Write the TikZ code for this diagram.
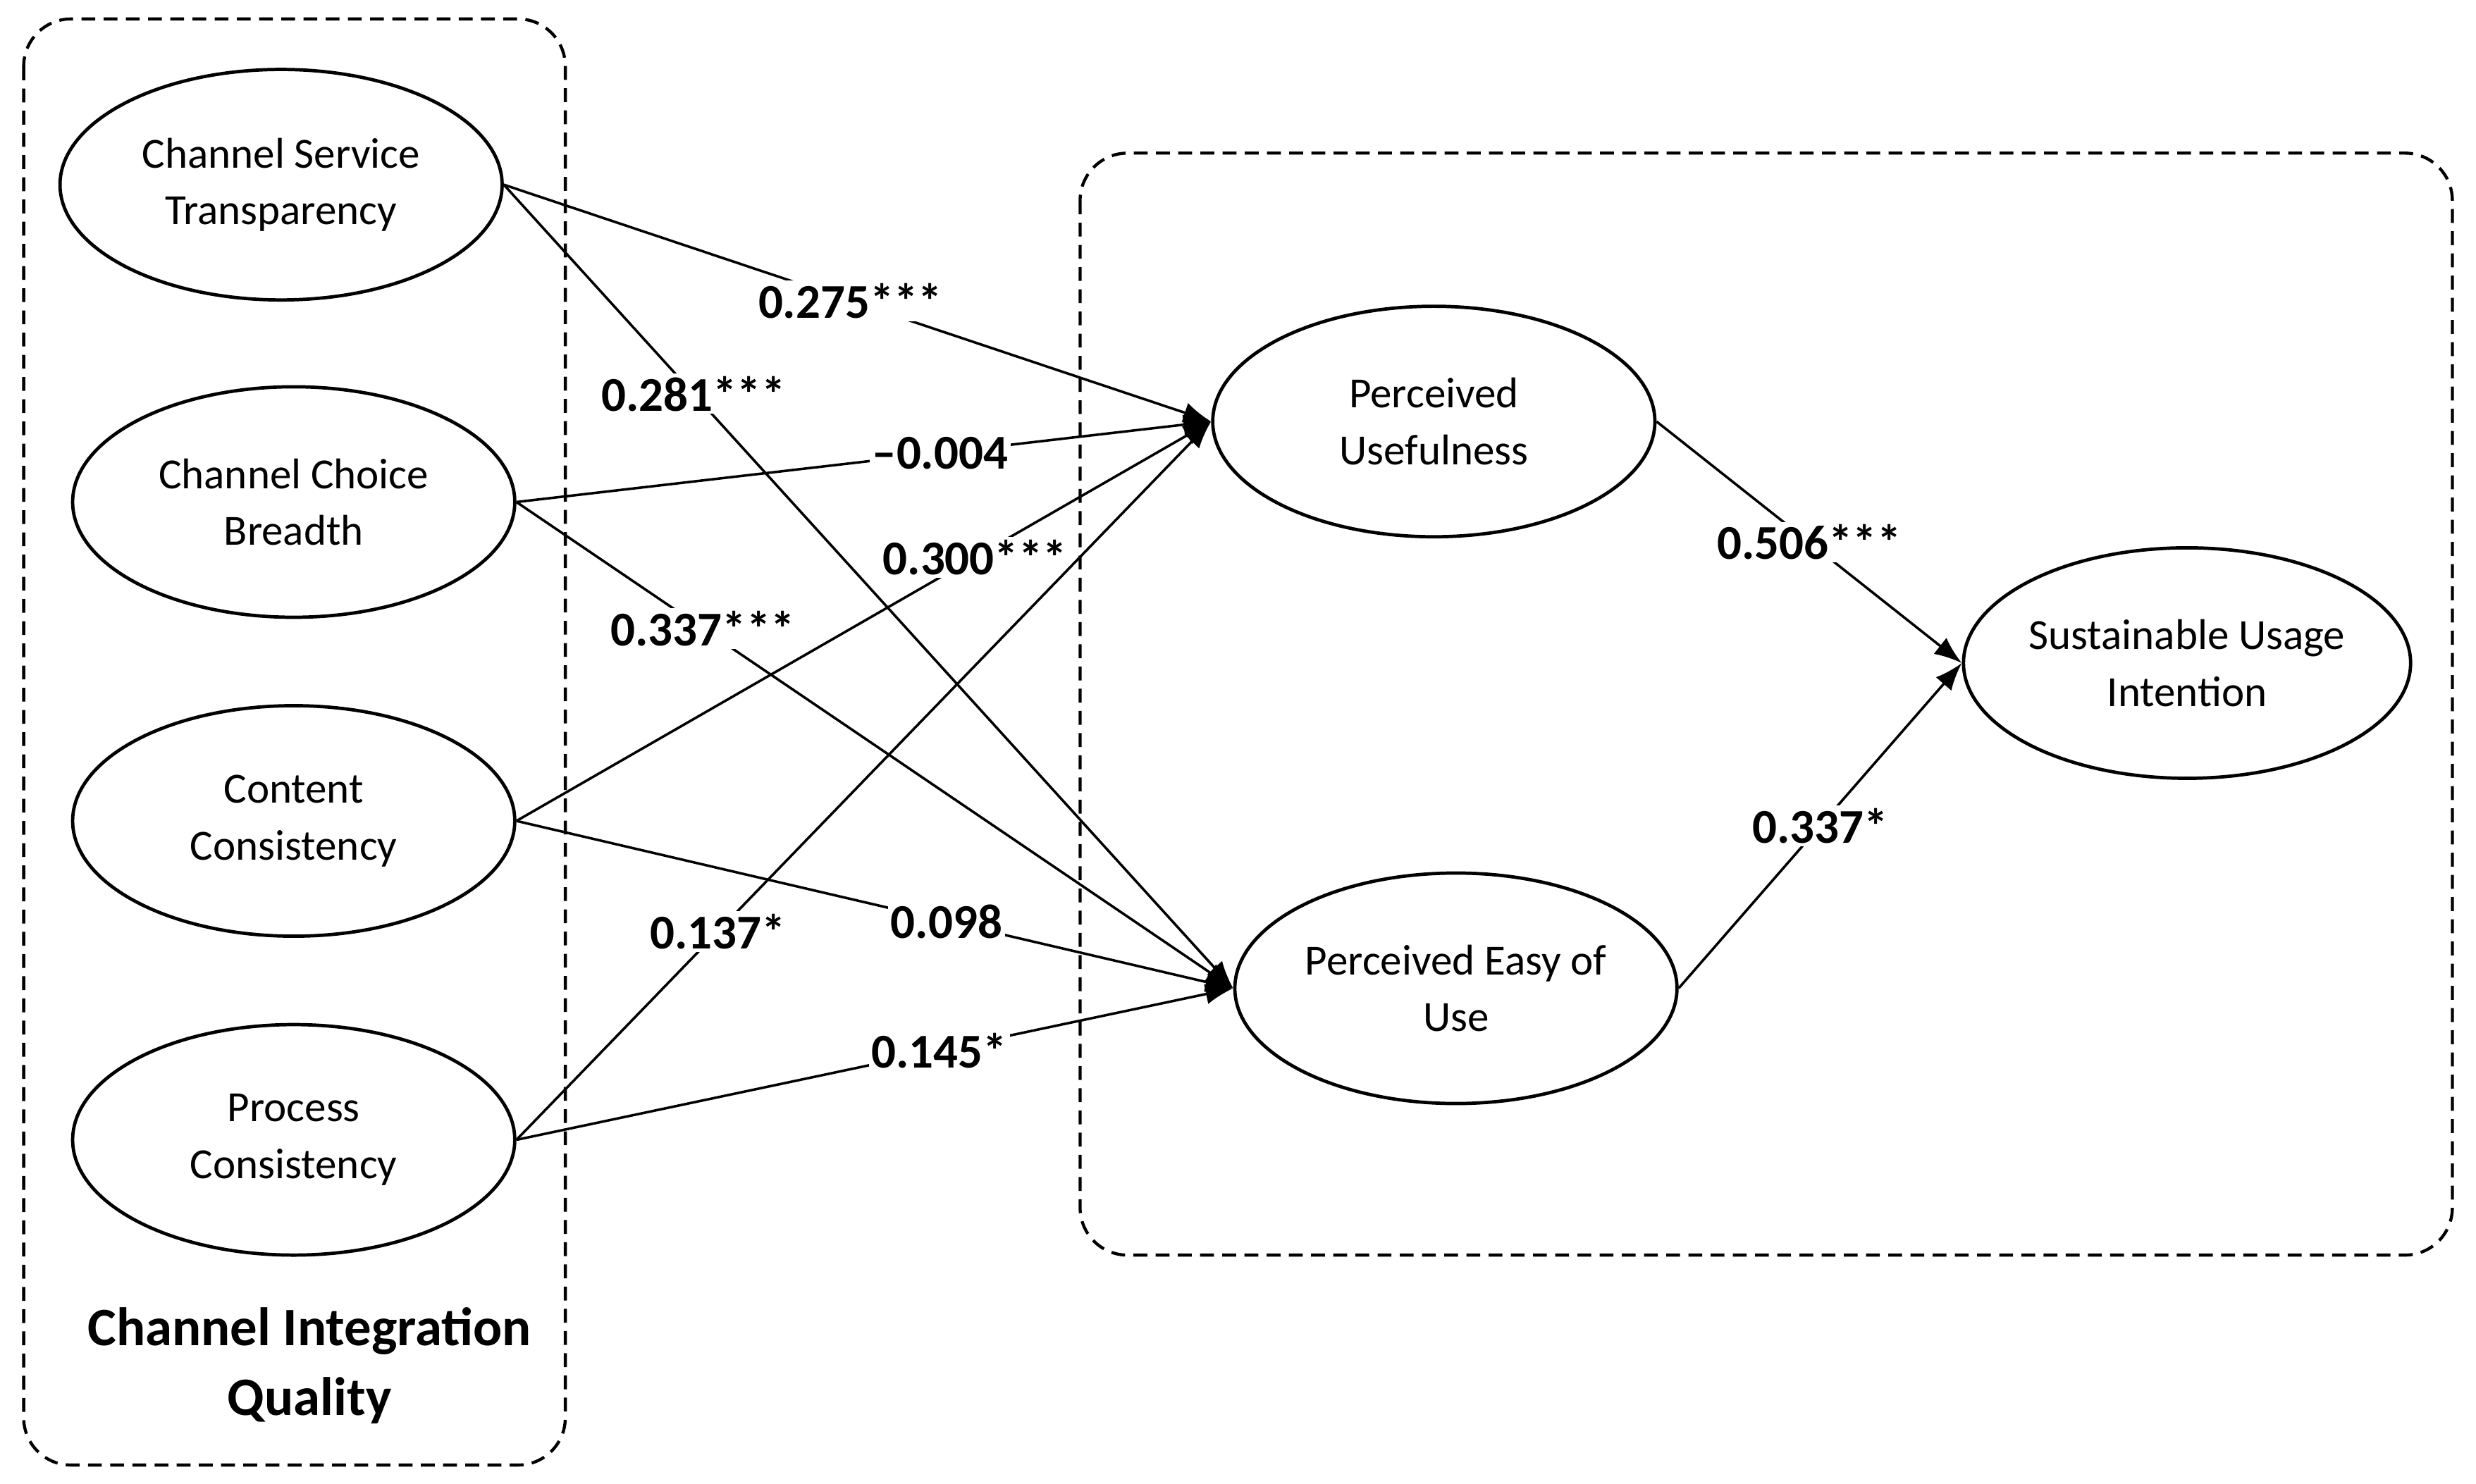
\documentclass[tikz,border=0pt]{standalone}
\usepackage{fontspec}
\setmainfont{Carlito}
\usetikzlibrary{arrows.meta,shapes.geometric}
\begin{document}
\begin{tikzpicture}[x=0.2mm,y=-0.2mm,
 ell/.style={draw,line width=1.2pt,ellipse,minimum width=280*0.2mm,minimum height=146*0.2mm,align=center,font=\fontsize{15.5}{20.5}\selectfont,inner sep=0pt},
 box/.style={draw,dash pattern=on 5pt off 3pt,line width=1.1pt,rounded corners=6mm},
 ar/.style={line width=0.9pt,-{Latex[length=3.5mm,width=2.6mm]}},
 lb/.style={fill=white,inner sep=1pt,font=\fontsize{17.5}{19}\selectfont\bfseries}]
\useasboundingbox (0,0) rectangle (1568,940);
\draw[box] (15,12) rectangle (358,928);
\draw[box] (684,97) rectangle (1553,795);
\node[ell] (cst) at (178,117) {Channel Service\\Transparency};
\node[ell] (ccb) at (186,318) {Channel Choice\\Breadth};
\node[ell] (cc) at (186,520) {Content\\Consistency};
\node[ell] (pc) at (186,722) {Process\\Consistency};
\node[ell] (pu) at (908,267) {Perceived\\Usefulness};
\node[ell] (pe) at (922,626) {Perceived Easy of\\Use};
\node[ell] (su) at (1385,420) {Sustainable Usage\\Intention};
\node[align=center,font=\fontsize{19.5}{25}\selectfont\bfseries] (t) at (196,865) {Channel Integration\\Quality};
\draw[ar] (cst.east) -- node[lb,pos=0.49]{0.275***} (pu.west);
\draw[ar] (cst.east) -- node[lb,pos=0.26]{0.281***} (pe.west);
\draw[ar] (ccb.east) -- node[lb,pos=0.61]{–0.004} (pu.west);
\draw[ar] (ccb.east) -- node[lb,pos=0.26]{0.337***} (pe.west);
\draw[ar] (cc.east) -- node[lb,pos=0.66]{0.300***} (pu.west);
\draw[ar] (cc.east) -- node[lb,pos=0.6]{0.098} (pe.west);
\draw[ar] (pc.east) -- node[lb,pos=0.29]{0.137*} (pu.west);
\draw[ar] (pc.east) -- node[lb,pos=0.59]{0.145*} (pe.west);
\draw[ar] (pu.east) -- node[lb,pos=0.5]{0.506***} (su.west);
\draw[ar] (pe.east) -- node[lb,pos=0.5]{0.337*} (su.west);
\end{tikzpicture}
\end{document}
